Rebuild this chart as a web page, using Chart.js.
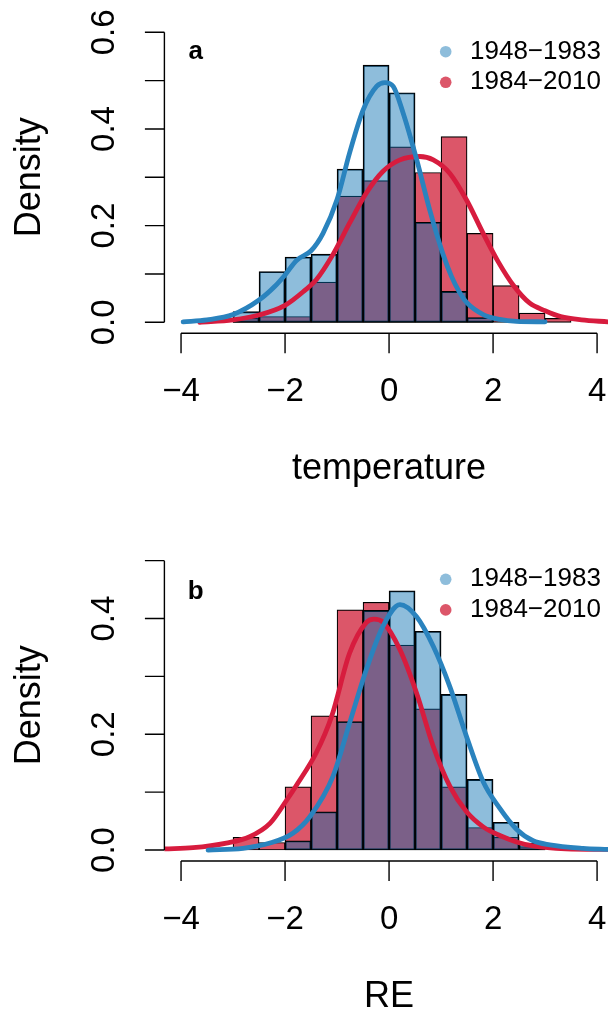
<!DOCTYPE html>
<html>
<head>
<meta charset="utf-8">
<script src="https://cdn.jsdelivr.net/npm/chart.js@4.4.1/dist/chart.umd.min.js"></script>
<style>
  html, body { margin: 0; padding: 0; background: #fff; }
  #wrap { position: relative; width: 608px; height: 1014px; overflow: hidden; }
  canvas { position: absolute; left: 0; top: 0; }
</style>
</head>
<body>
<div id="wrap">
  <canvas id="panelA" width="608" height="1014"></canvas>
  <canvas id="panelB" width="608" height="1014"></canvas>
</div>
<script>
// histogram bins (width 0.5), given by their mid points
const binMids = [-2.75, -2.25, -1.75, -1.25, -0.75, -0.25, 0.25, 0.75, 1.25, 1.75, 2.25, 2.75, 3.25];

// panel a: temperature, density per bin
const tempEarly = [0.022, 0.105, 0.135, 0.141, 0.317, 0.532, 0.475, 0.207, 0.064, 0.010, null, null, null];
const tempLate  = [0.008, 0.012, 0.012, 0.083, 0.261, 0.293, 0.363, 0.310, 0.384, 0.184, 0.076, 0.019, 0.008];

// panel b: RE, density per bin
const reEarly = [null, null, 0.016, 0.066, 0.222, 0.414, 0.448, 0.378, 0.269, 0.122, 0.048, 0.012, null];
const reLate  = [0.022, 0.013, 0.109, 0.232, 0.415, 0.428, 0.354, 0.244, 0.109, 0.039, 0.022, 0.006, null];

// density curves
const tempEarlyCurveX = [-3.96, -3.5, -3.0, -2.5, -2.2, -2.0, -1.78, -1.5, -1.27, -1.0, -0.76, -0.5, -0.24, -0.08, 0.08, 0.27, 0.53, 0.78, 1.04, 1.2, 1.35, 1.5, 1.81, 2.13, 2.45, 3.0];
const tempEarlyCurveY = [0.001, 0.005, 0.016, 0.046, 0.074, 0.098, 0.128, 0.148, 0.184, 0.254, 0.350, 0.439, 0.488, 0.496, 0.488, 0.433, 0.337, 0.233, 0.140, 0.095, 0.063, 0.040, 0.016, 0.006, 0.002, 0.001];
const tempLateCurveX = [-3.64, -3.0, -2.5, -2.0, -1.62, -1.4, -1.08, -0.76, -0.44, -0.12, 0.21, 0.59, 0.85, 1.17, 1.49, 1.81, 2.1, 2.4, 2.7, 3.0, 3.3, 3.7, 4.21];
const tempLateCurveY = [0.000, 0.005, 0.015, 0.035, 0.066, 0.088, 0.140, 0.205, 0.267, 0.312, 0.336, 0.343, 0.336, 0.308, 0.253, 0.184, 0.125, 0.075, 0.040, 0.024, 0.012, 0.005, 0.001];

const reEarlyCurveX = [-3.48, -2.81, -2.29, -1.85, -1.52, -1.08, -0.76, -0.44, -0.12, 0.21, 0.53, 0.85, 1.17, 1.49, 1.81, 2.13, 2.45, 2.77, 3.09, 3.73, 4.21];
const reEarlyCurveY = [0.000, 0.003, 0.012, 0.029, 0.058, 0.127, 0.219, 0.311, 0.386, 0.424, 0.403, 0.352, 0.282, 0.196, 0.118, 0.072, 0.036, 0.016, 0.009, 0.003, 0.001];
const reLateCurveX = [-4.31, -3.77, -3.13, -2.68, -2.29, -1.97, -1.78, -1.4, -1.1, -0.76, -0.44, -0.29, -0.12, 0.21, 0.53, 0.85, 1.17, 1.49, 1.81, 2.13, 2.45, 2.77, 3.4, 4.21];
const reLateCurveY = [0.002, 0.004, 0.012, 0.023, 0.046, 0.086, 0.112, 0.168, 0.232, 0.340, 0.393, 0.399, 0.394, 0.346, 0.271, 0.179, 0.110, 0.066, 0.040, 0.025, 0.014, 0.007, 0.002, 0.001];

// axes
const xTicks = [-4, -2, 0, 2, 4];
const xTickLabels = ['\u22124', '\u22122', '0', '2', '4'];
const yTicksA = [0, 0.1, 0.2, 0.3, 0.4, 0.5, 0.6];
const yTickLabelsA = ['0.0', '', '0.2', '', '0.4', '', '0.6'];
const yTicksB = [0, 0.1, 0.2, 0.3, 0.4, 0.5];
const yTickLabelsB = ['0.0', '', '0.2', '', '0.4', ''];
const legendLabels = ['1948\u22121983', '1984\u22122010'];

const EARLY_FILL = 'rgba(4,108,175,0.45)';
const LATE_FILL = 'rgb(220,86,105)';
const EARLY_LINE = 'rgb(42,131,190)';
const LATE_LINE = 'rgb(215,28,62)';
const FONT = '"Liberation Sans", Arial, Helvetica, sans-serif';

function pts(xs, ys) {
    return xs.map((x, i) => ({ x: x, y: ys[i] }));
}

// draws base-R looking axes, titles, panel letter and legend
const baseR = {
    id: 'baseR',
    afterDraw(chart, args, o) {
        const ctx = chart.ctx;
        const ca = chart.chartArea;
        const xs = chart.scales.x;
        const ys = chart.scales.y;
        ctx.save();
        ctx.strokeStyle = '#000';
        ctx.fillStyle = '#000';
        ctx.lineWidth = 1.4;

        const yPix = o.yTicks.map(v => ys.getPixelForValue(v));
        const xPix = o.xTicks.map(v => xs.getPixelForValue(v));
        const axY = ca.bottom - 0.6;
        const axX = ca.left;
        ctx.beginPath();
        ctx.moveTo(axX, yPix[0]);
        ctx.lineTo(axX, yPix[yPix.length - 1]);
        yPix.forEach(p => { ctx.moveTo(axX, p); ctx.lineTo(axX - 19.5, p); });
        ctx.moveTo(xPix[0], axY);
        ctx.lineTo(xPix[xPix.length - 1], axY);
        xPix.forEach(p => { ctx.moveTo(p, axY); ctx.lineTo(p, axY + 20); });
        ctx.stroke();

        ctx.font = '33px ' + FONT;
        ctx.textAlign = 'center';
        ctx.textBaseline = 'middle';
        xPix.forEach((p, i) => ctx.fillText(o.xLabels[i], p, ca.bottom + 58));
        yPix.forEach((p, i) => {
            if (!o.yLabels[i]) return;
            ctx.save();
            ctx.translate(axX - 59.5, p);
            ctx.rotate(-Math.PI / 2);
            ctx.fillText(o.yLabels[i], 0, 0);
            ctx.restore();
        });

        ctx.font = '36px ' + FONT;
        ctx.textBaseline = 'alphabetic';
        ctx.fillText(o.xTitle, (xPix[0] + xPix[xPix.length - 1]) / 2, ca.bottom + 145.5);
        ctx.save();
        ctx.translate(axX - 134, (ca.top + ca.bottom) / 2);
        ctx.rotate(-Math.PI / 2);
        ctx.textBaseline = 'middle';
        ctx.fillText(o.yTitle, 0, 0);
        ctx.restore();

        ctx.font = 'bold 26px ' + FONT;
        ctx.fillText(o.letter, ca.left + 31.3, ca.top + o.letterDy);

        ctx.font = '26px ' + FONT;
        ctx.textAlign = 'left';
        ctx.textBaseline = 'middle';
        o.legendColors.forEach((c, i) => {
            const cx = ca.left + 281.3;
            const cy = ca.top + o.legendDy + i * 30.6;
            ctx.fillStyle = c;
            ctx.beginPath();
            ctx.arc(cx, cy, 5.8, 0, Math.PI * 2);
            ctx.fill();
            ctx.fillStyle = '#000';
            ctx.fillText(legendLabels[i], cx + 24.3, cy);
        });
        ctx.restore();
    }
};

function drawPanel(id, p) {
    const lineStyle = {
        type: 'line', pointRadius: 0, borderWidth: 4.8, fill: false,
        cubicInterpolationMode: 'monotone', borderCapStyle: 'round', borderJoinStyle: 'round'
    };
    const barStyle = { type: 'bar', borderColor: '#000', borderWidth: 1.2, borderSkipped: false };
    return new Chart(document.getElementById(id), {
        type: 'bar',
        data: {
            datasets: [
                Object.assign({ label: legendLabels[1], data: pts(binMids, p.late), backgroundColor: LATE_FILL, order: 4 }, barStyle),
                Object.assign({ label: legendLabels[0], data: pts(binMids, p.early), backgroundColor: EARLY_FILL, order: 3 }, barStyle),
                Object.assign({ label: legendLabels[1], data: pts(p.lateCx, p.lateCy), borderColor: LATE_LINE, order: 2 }, lineStyle),
                Object.assign({ label: legendLabels[0], data: pts(p.earlyCx, p.earlyCy), borderColor: EARLY_LINE, order: 1 }, lineStyle)
            ]
        },
        options: {
            responsive: false,
            animation: false,
            devicePixelRatio: 1,
            events: [],
            layout: { padding: p.pad },
            datasets: { bar: { grouped: false, barPercentage: 1, categoryPercentage: 1 } },
            scales: {
                x: {
                    type: 'linear', display: false, offset: false, grid: { offset: false },
                    min: -4.32, max: 4.21, ticks: { stepSize: 2, includeBounds: false }
                },
                y: { type: 'linear', display: false, min: p.yMin, max: p.yMax }
            },
            plugins: {
                legend: { display: false },
                tooltip: { enabled: false },
                baseR: {
                    xTicks: xTicks, xLabels: xTickLabels,
                    yTicks: p.yTicks, yLabels: p.yLabels,
                    xTitle: p.xTitle, yTitle: 'Density',
                    letter: p.letter, letterDy: p.letterDy,
                    legendDy: p.legendDy, legendColors: [EARLY_FILL, LATE_FILL]
                }
            }
        },
        plugins: [baseR]
    });
}

drawPanel('panelA', {
    early: tempEarly, late: tempLate,
    earlyCx: tempEarlyCurveX, earlyCy: tempEarlyCurveY,
    lateCx: tempLateCurveX, lateCy: tempLateCurveY,
    pad: { left: 164.4, right: 0, top: 20.7, bottom: 680.1 },
    yMin: -0.024, yMax: 0.624,
    yTicks: yTicksA, yLabels: yTickLabelsA,
    xTitle: 'temperature', letter: 'a', letterDy: 38.3, legendDy: 31
});

drawPanel('panelB', {
    early: reEarly, late: reLate,
    earlyCx: reEarlyCurveX, earlyCy: reEarlyCurveY,
    lateCx: reLateCurveX, lateCy: reLateCurveY,
    pad: { left: 164.4, right: 0, top: 549.1, bottom: 152.4 },
    yMin: -0.02, yMax: 0.52,
    yTicks: yTicksB, yLabels: yTickLabelsB,
    xTitle: 'RE', letter: 'b', letterDy: 50.2, legendDy: 30.2
});
</script>
</body>
</html>
